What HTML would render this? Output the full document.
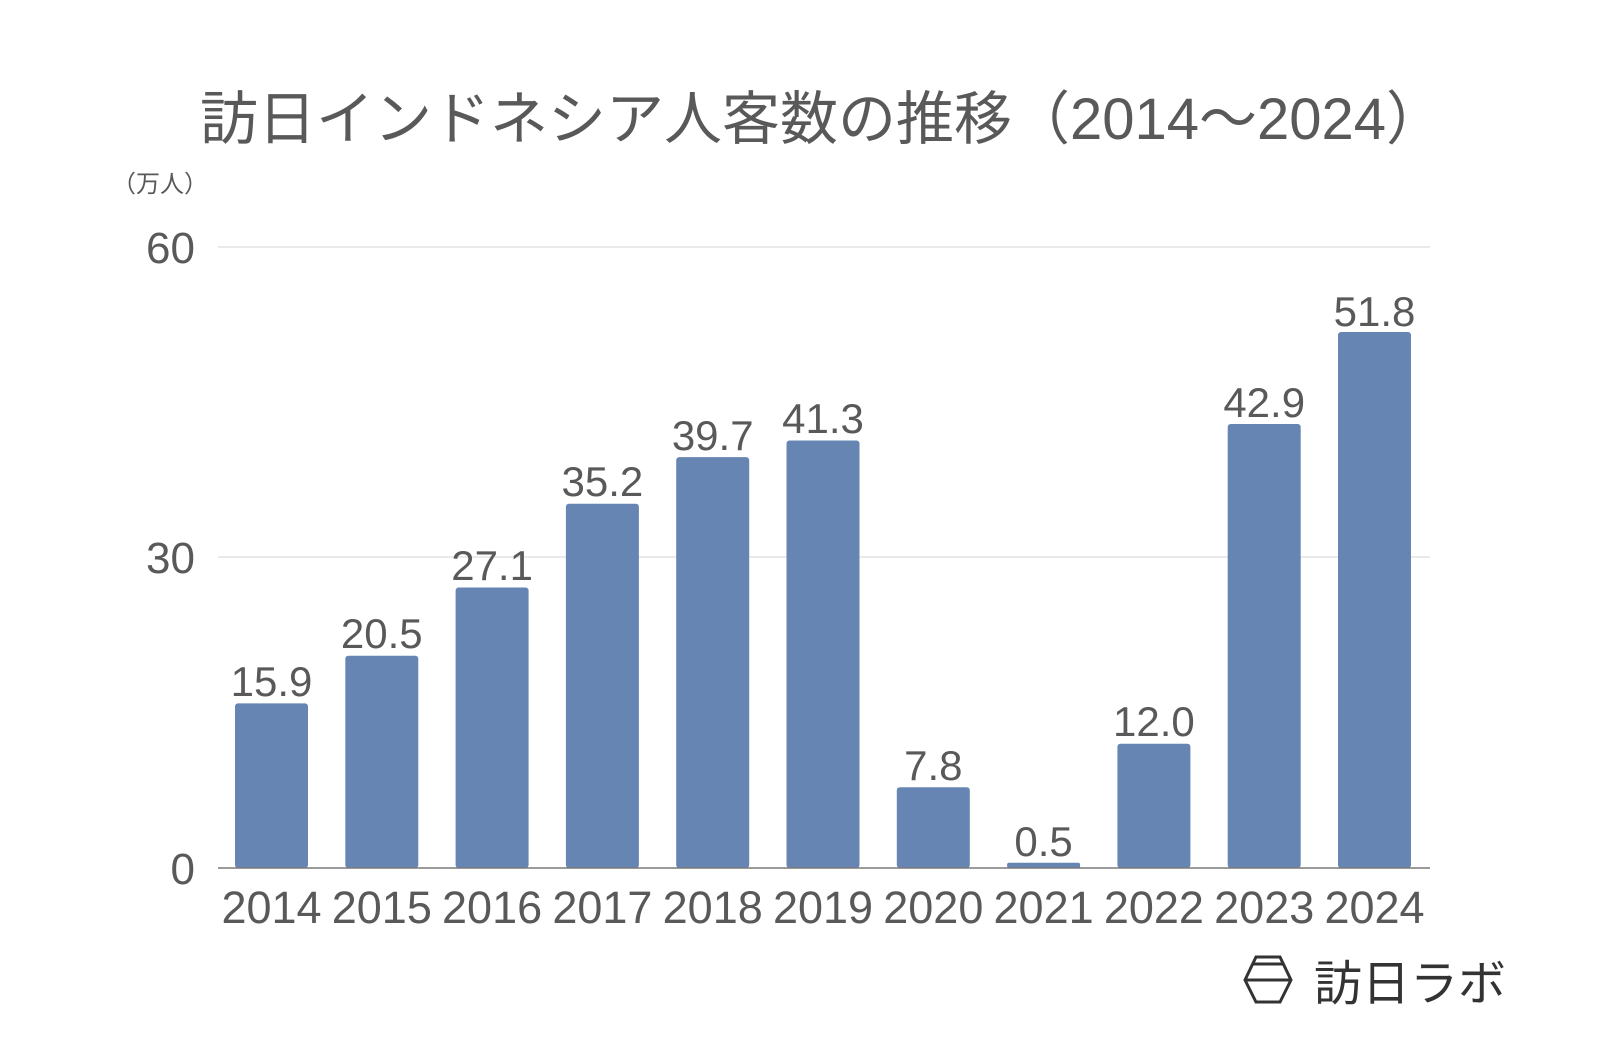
<!DOCTYPE html>
<html><head><meta charset="utf-8"><style>
body{margin:0;background:#fff;}
svg text{font-family:"Liberation Sans","Noto Sans CJK JP",sans-serif;fill:#595959;}
</style></head><body>
<svg width="1600" height="1048" viewBox="0 0 1600 1048" xmlns="http://www.w3.org/2000/svg">
<text x="822" y="139" font-size="58" text-anchor="middle">訪日インドネシア人客数の推移（2014～2024）</text>
<text x="160" y="192" font-size="24" text-anchor="middle">（万人）</text>
<line x1="218" y1="247" x2="1430" y2="247" stroke="#e3e3e3" stroke-width="1.5"/>
<line x1="218" y1="557" x2="1430" y2="557" stroke="#e3e3e3" stroke-width="1.5"/>
<text x="195" y="263" font-size="44" text-anchor="end">60</text>
<text x="195" y="573" font-size="44" text-anchor="end">30</text>
<text x="195" y="884" font-size="44" text-anchor="end">0</text>
<g fill="#6685b3">
<rect x="235" y="703.4" width="73" height="164.6" rx="3"/>
<rect x="345.3" y="655.8" width="73" height="212.2" rx="3"/>
<rect x="455.6" y="587.5" width="73" height="280.5" rx="3"/>
<rect x="565.9" y="503.7" width="73" height="364.3" rx="3"/>
<rect x="676.2" y="457.1" width="73" height="410.9" rx="3"/>
<rect x="786.5" y="440.5" width="73" height="427.5" rx="3"/>
<rect x="896.8" y="787.3" width="73" height="80.7" rx="3"/>
<rect x="1007.1" y="862.8" width="73" height="5.2" rx="2"/>
<rect x="1117.4" y="743.8" width="73" height="124.2" rx="3"/>
<rect x="1227.7" y="424" width="73" height="444" rx="3"/>
<rect x="1338" y="332" width="73" height="536" rx="3"/>
</g>
<line x1="218" y1="868" x2="1430" y2="868" stroke="#7a7a7a" stroke-width="1.5"/>
<g font-size="42" text-anchor="middle">
<text x="271.5" y="696">15.9</text>
<text x="381.8" y="648">20.5</text>
<text x="492.1" y="580">27.1</text>
<text x="602.4" y="496">35.2</text>
<text x="712.7" y="450">39.7</text>
<text x="823" y="433">41.3</text>
<text x="933.3" y="780">7.8</text>
<text x="1043.6" y="856">0.5</text>
<text x="1153.9" y="736">12.0</text>
<text x="1264.2" y="417">42.9</text>
<text x="1374.5" y="326">51.8</text>
</g>
<g font-size="45" text-anchor="middle">
<text x="271.5" y="923">2014</text>
<text x="381.8" y="923">2015</text>
<text x="492.1" y="923">2016</text>
<text x="602.4" y="923">2017</text>
<text x="712.7" y="923">2018</text>
<text x="823" y="923">2019</text>
<text x="933.3" y="923">2020</text>
<text x="1043.6" y="923">2021</text>
<text x="1153.9" y="923">2022</text>
<text x="1264.2" y="923">2023</text>
<text x="1374.5" y="923">2024</text>
</g>
<g stroke="#333" stroke-width="3" fill="none">
<polygon points="1256,957 1280,957 1291,980 1280,1002 1256,1002 1245,980"/>
<line x1="1253" y1="964" x2="1283" y2="964"/>
<line x1="1246" y1="980" x2="1290" y2="980"/>
</g>
<text x="1314" y="1000" font-size="48" style="fill:#333">訪日ラボ</text>
</svg>
</body></html>
